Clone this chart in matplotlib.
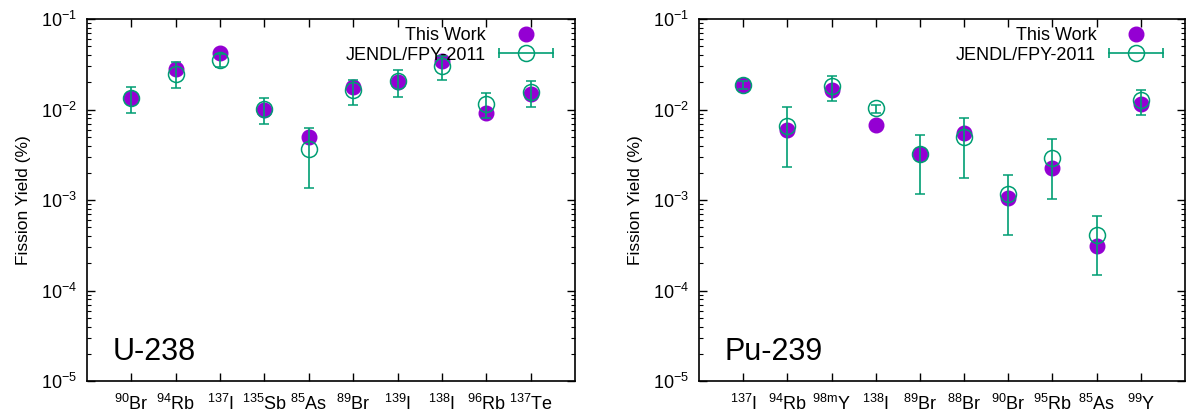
import matplotlib
matplotlib.use('Agg')
import matplotlib.pyplot as plt
from matplotlib.lines import Line2D
from matplotlib.legend_handler import HandlerBase
from matplotlib.ticker import LogLocator, NullFormatter, FixedLocator, FixedFormatter

plt.rcParams['font.family'] = ['Liberation Sans', 'DejaVu Sans']
plt.rcParams['mathtext.fontset'] = 'custom'
plt.rcParams['mathtext.rm'] = 'Liberation Sans'
plt.rcParams['mathtext.it'] = 'Liberation Sans:italic'
plt.rcParams['mathtext.bf'] = 'Liberation Sans:bold'
plt.rcParams['axes.unicode_minus'] = False

# ---------------- data ----------------
u238_labels = [r'$^{90}$Br', r'$^{94}$Rb', r'$^{137}$I', r'$^{135}$Sb', r'$^{85}$As',
               r'$^{89}$Br', r'$^{139}$I', r'$^{138}$I', r'$^{96}$Rb', r'$^{137}$Te']
u238_this = [0.0133, 0.0283, 0.0422, 0.0100, 0.0050, 0.0176, 0.0202, 0.0347, 0.0092, 0.0149]
u238_jendl = [0.0135, 0.0245, 0.0350, 0.0102, 0.00368, 0.0163, 0.0205, 0.0306, 0.0116, 0.0157]
u238_jendl_lo = [0.0091, 0.0174, 0.0293, 0.0070, 0.00137, 0.0111, 0.0139, 0.0214, 0.0081, 0.0107]
u238_jendl_hi = [0.0176, 0.0333, 0.0410, 0.0135, 0.00622, 0.0212, 0.0272, 0.0390, 0.0153, 0.0207]

pu239_labels = [r'$^{137}$I', r'$^{94}$Rb', r'$^{98\mathrm{m}}$Y', r'$^{138}$I', r'$^{89}$Br',
                r'$^{88}$Br', r'$^{90}$Br', r'$^{95}$Rb', r'$^{85}$As', r'$^{99}$Y']
pu239_this = [0.0187, 0.0060, 0.0166, 0.00667, 0.00324, 0.00553, 0.00106, 0.00224, 0.000313, 0.01155]
pu239_jendl = [0.0187, 0.00655, 0.0184, 0.01026, 0.00324, 0.0050, 0.00117, 0.0029, 0.00041, 0.0126]
pu239_jendl_lo = [0.0170, 0.00233, 0.0123, 0.0092, 0.00116, 0.00175, 0.00041, 0.00103, 0.000149, 0.0086]
pu239_jendl_hi = [0.0205, 0.0106, 0.0237, 0.01125, 0.00526, 0.0080, 0.0019, 0.00478, 0.000673, 0.0165]

panel_names = ['U-238', 'Pu-239']

PURPLE = '#9400D3'
GREEN = '#009E73'


class HandlerHErr(HandlerBase):
    def create_artists(self, legend, orig_handle, xdescent, ydescent, width, height,
                       fontsize, trans):
        y = height / 2.0 - ydescent
        x0 = -xdescent
        x1 = -xdescent + width
        line = Line2D([x0, x1], [y, y], color=GREEN, lw=1.2)
        caps = Line2D([x0, x1], [y, y], ls='none', marker='|', markersize=7,
                      mew=1.2, color=GREEN)
        circ = Line2D([(x0 + x1) / 2.0], [y], ls='none', marker='o', markersize=11.5,
                      mfc='none', mec=GREEN, mew=1.1)
        for a in (line, caps, circ):
            a.set_transform(trans)
        return [line, caps, circ]


fig = plt.figure(figsize=(11.87, 4.18), dpi=100)
W, H = 1187.0, 418.0
ax1 = fig.add_axes([87 / W, (H - 381) / H, (575 - 87) / W, (381 - 19) / H])
ax2 = fig.add_axes([699 / W, (H - 381) / H, (1185 - 699) / W, (381 - 19) / H])

panels = [
    (ax1, u238_labels, u238_this, u238_jendl, u238_jendl_lo, u238_jendl_hi, panel_names[0]),
    (ax2, pu239_labels, pu239_this, pu239_jendl, pu239_jendl_lo, pu239_jendl_hi, panel_names[1]),
]

for ax, labels, this, jendl, lo, hi, name in panels:
    x = list(range(1, len(labels) + 1))
    ax.set_yscale('log')
    ax.set_ylim(1e-5, 1e-1)
    ax.set_xlim(0, len(labels) + 1)

    ax.plot(x, this, ls='none', marker='o', markersize=10.5, color=PURPLE, mec=PURPLE, zorder=3)
    yerr = [[j - l for j, l in zip(jendl, lo)], [h - j for j, h in zip(jendl, hi)]]
    ax.errorbar(x, jendl, yerr=yerr, ls='none', marker='o', markersize=11.5,
                mfc='none', mec=GREEN, mew=1.1, ecolor=GREEN, elinewidth=1.2,
                capsize=3.5, capthick=1.2, zorder=4)

    ax.xaxis.set_major_locator(FixedLocator(x))
    ax.xaxis.set_major_formatter(FixedFormatter(labels))
    ax.yaxis.set_major_locator(FixedLocator([1e-5, 1e-4, 1e-3, 1e-2, 1e-1]))
    ax.yaxis.set_major_formatter(FixedFormatter([r'$10^{-5}$', r'$10^{-4}$', r'$10^{-3}$',
                                                 r'$10^{-2}$', r'$10^{-1}$']))
    ax.yaxis.set_minor_locator(LogLocator(base=10, subs=range(2, 10)))
    ax.yaxis.set_minor_formatter(NullFormatter())

    ax.tick_params(axis='both', which='major', direction='in', length=5.5, width=1.0,
                   top=True, right=True, labelsize=13)
    ax.tick_params(axis='y', which='minor', direction='in', length=3, width=0.8,
                   right=True)
    ax.tick_params(axis='x', which='minor', bottom=False, top=False)
    ax.tick_params(axis='x', which='major', pad=9)
    ax.tick_params(axis='y', which='major', pad=7)
    for s in ax.spines.values():
        s.set_linewidth(1.2)

    ax.set_ylabel('Fission Yield (%)', fontsize=12.5)
    ax.yaxis.set_label_coords(-0.115, 0.5)

    ax.text(0.053, 0.058, name, transform=ax.transAxes, fontsize=22,
            ha='left', va='baseline')

    h1 = Line2D([], [], ls='none', marker='o', markersize=10.5, color=PURPLE)
    h2 = Line2D([], [], color=GREEN)
    ax.legend([h1, h2], ['This Work', 'JENDL/FPY-2011'], loc='upper right',
              bbox_to_anchor=(0.955, 0.978), borderaxespad=0, borderpad=0,
              frameon=False, markerfirst=False, fontsize=13, handlelength=3.0,
              handletextpad=0.7, labelspacing=0.15,
              handler_map={h2: HandlerHErr()})

fig.savefig('out.png', dpi=100)
